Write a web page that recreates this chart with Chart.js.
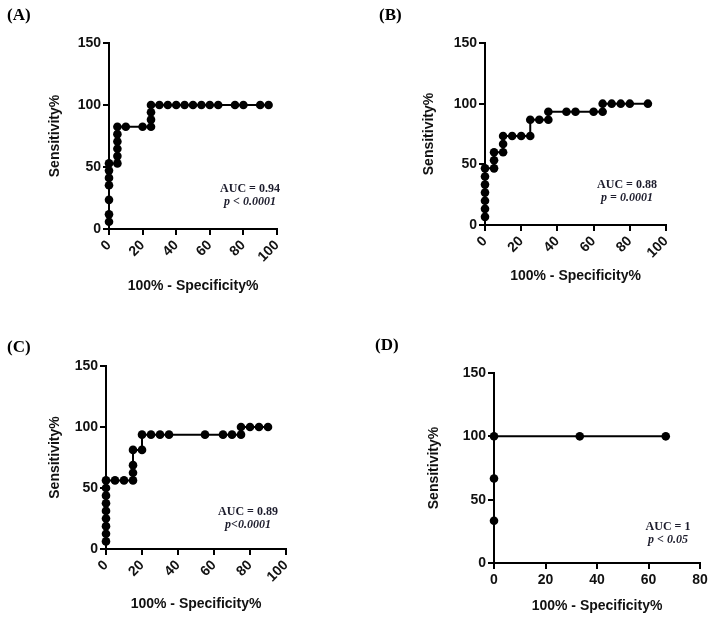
<!DOCTYPE html>
<html>
<head>
<meta charset="utf-8">
<script src="https://cdn.jsdelivr.net/npm/chart.js@4.4.1/dist/chart.umd.min.js"></script>
<style>
  body { margin: 0; background: #fff; }
  #page { position: relative; width: 714px; height: 621px; overflow: hidden; }
  .panel { position: absolute; }
  .tag { position: absolute; font: bold 17px 'Liberation Serif', 'Times New Roman', serif; color: #000; }
  .auc { position: absolute; font: bold 12px 'Liberation Serif', 'Times New Roman', serif; color: #1c1c2c; text-align: center; line-height: 13px; }
  .auc i { font-style: italic; }
</style>
</head>
<body>
<div id="page">
  <div class="panel" style="left:0;top:0"><canvas id="chartA" width="357" height="310"></canvas></div>
  <div class="panel" style="left:357px;top:0"><canvas id="chartB" width="357" height="310"></canvas></div>
  <div class="panel" style="left:0;top:310px"><canvas id="chartC" width="357" height="311"></canvas></div>
  <div class="panel" style="left:357px;top:310px"><canvas id="chartD" width="357" height="311"></canvas></div>

  <div class="tag" style="left:7px;top:5px">(A)</div>
  <div class="tag" style="left:379px;top:5px">(B)</div>
  <div class="tag" style="left:7px;top:337px">(C)</div>
  <div class="tag" style="left:375px;top:335px">(D)</div>

  <div class="auc" style="left:210px;top:182px;width:80px">AUC = 0.94<br><i>p &lt; 0.0001</i></div>
  <div class="auc" style="left:587px;top:178px;width:80px">AUC = 0.88<br><i>p = 0.0001</i></div>
  <div class="auc" style="left:208px;top:505px;width:80px">AUC = 0.89<br><i>p&lt;0.0001</i></div>
  <div class="auc" style="left:628px;top:520px;width:80px">AUC = 1<br><i>p &lt; 0.05</i></div>
</div>

<script>
// (A)
const aX = [0, 0, 0, 0, 0, 0, 0, 5, 5, 5, 5, 5, 5, 10, 20, 25, 25, 25, 25, 30, 35, 40, 45, 50, 55, 60, 65, 75, 80, 90, 95];
const aY = [5.9, 11.8, 23.5, 35.3, 41.2, 47.1, 52.9, 52.9, 58.8, 64.7, 70.6, 76.5, 82.4, 82.4, 82.4, 82.4, 88.2, 94.1, 100, 100, 100, 100, 100, 100, 100, 100, 100, 100, 100, 100, 100];
// (B)
const bX = [0, 0, 0, 0, 0, 0, 0, 5, 5, 5, 10, 10, 10, 15, 20, 25, 25, 30, 35, 35, 45, 50, 60, 65, 65, 70, 75, 80, 90];
const bY = [6.7, 13.3, 20, 26.7, 33.3, 40, 46.7, 46.7, 53.3, 60, 60, 66.7, 73.3, 73.3, 73.3, 73.3, 86.7, 86.7, 86.7, 93.3, 93.3, 93.3, 93.3, 93.3, 100, 100, 100, 100, 100];
// (C)
const cX = [0, 0, 0, 0, 0, 0, 0, 0, 0, 5, 10, 15, 15, 15, 15, 20, 20, 25, 30, 35, 55, 65, 70, 75, 75, 80, 85, 90];
const cY = [6.25, 12.5, 18.75, 25, 31.25, 37.5, 43.75, 50, 56.25, 56.25, 56.25, 56.25, 62.5, 68.75, 81.25, 81.25, 93.75, 93.75, 93.75, 93.75, 93.75, 93.75, 93.75, 93.75, 100, 100, 100, 100];
// (D)
const dX = [0, 0, 0, 33.3, 66.7];
const dY = [33.3, 66.7, 100, 100, 100];

const yTicks = [0, 50, 100, 150];
const xTitle = '100% - Specificity%';
const yTitle = 'Sensitivity%';

const sans = "'Liberation Sans', Arial, sans-serif";

function puntos(xs, ys) {
    return xs.map((x, i) => ({ x: x, y: ys[i] }));
}

function crearPanel(id, xs, ys, xMax, rotar, caja) {
    const ctx = document.getElementById(id).getContext('2d');
    return new Chart(ctx, {
        type: 'scatter',
        data: {
            datasets: [{
                data: puntos(xs, ys),
                showLine: true,
                borderColor: '#000',
                backgroundColor: '#000',
                borderWidth: 2,
                pointRadius: 4.3,
                pointBorderWidth: 0,
                clip: false
            }]
        },
        options: {
            responsive: false,
            animation: false,
            layout: { padding: caja.pad },
            plugins: { legend: { display: false }, tooltip: { enabled: false } },
            scales: {
                x: {
                    type: 'linear',
                    min: 0, max: xMax,
                    afterFit: s => { s.height = caja.xh; },
                    ticks: {
                        stepSize: 20,
                        color: '#111',
                        font: { family: sans, weight: 'bold', size: 14 },
                        minRotation: rotar ? 45 : 0,
                        maxRotation: rotar ? 45 : 0,
                        padding: rotar ? 2 : 3
                    },
                    grid: { drawOnChartArea: false, drawTicks: true, tickLength: 6, color: '#000', lineWidth: 2 },
                    border: { display: true, color: '#000', width: 2 },
                    title: { display: true, text: xTitle, color: '#111', font: { family: sans, weight: 'bold', size: 14 } }
                },
                y: {
                    min: 0, max: 150,
                    afterFit: s => { s.width = caja.yw; },
                    afterBuildTicks: s => { s.ticks = yTicks.map(v => ({ value: v })); },
                    ticks: {
                        color: '#111',
                        font: { family: sans, weight: 'bold', size: 14 },
                        padding: 2
                    },
                    grid: { drawOnChartArea: false, drawTicks: true, tickLength: 6, color: '#000', lineWidth: 2 },
                    border: { display: true, color: '#000', width: 2 },
                    title: { display: true, text: yTitle, color: '#111', font: { family: sans, weight: 'bold', size: 14 } }
                }
            }
        }
    });
}

crearPanel('chartA', aX, aY, 100, true, { pad: { left: 43, top: 43, right: 80, bottom: 11 }, yw: 66, xh: 70 });
crearPanel('chartB', bX, bY, 100, true, { pad: { left: 60, top: 43, right: 48, bottom: 21 }, yw: 68, xh: 64 });
crearPanel('chartC', cX, cY, 100, true, { pad: { left: 43, top: 56, right: 71, bottom: 4 }, yw: 63, xh: 68 });
crearPanel('chartD', dX, dY, 80, false, { pad: { left: 65, top: 63, right: 14, bottom: 2 }, yw: 72, xh: 56 });
</script>
</body>
</html>
